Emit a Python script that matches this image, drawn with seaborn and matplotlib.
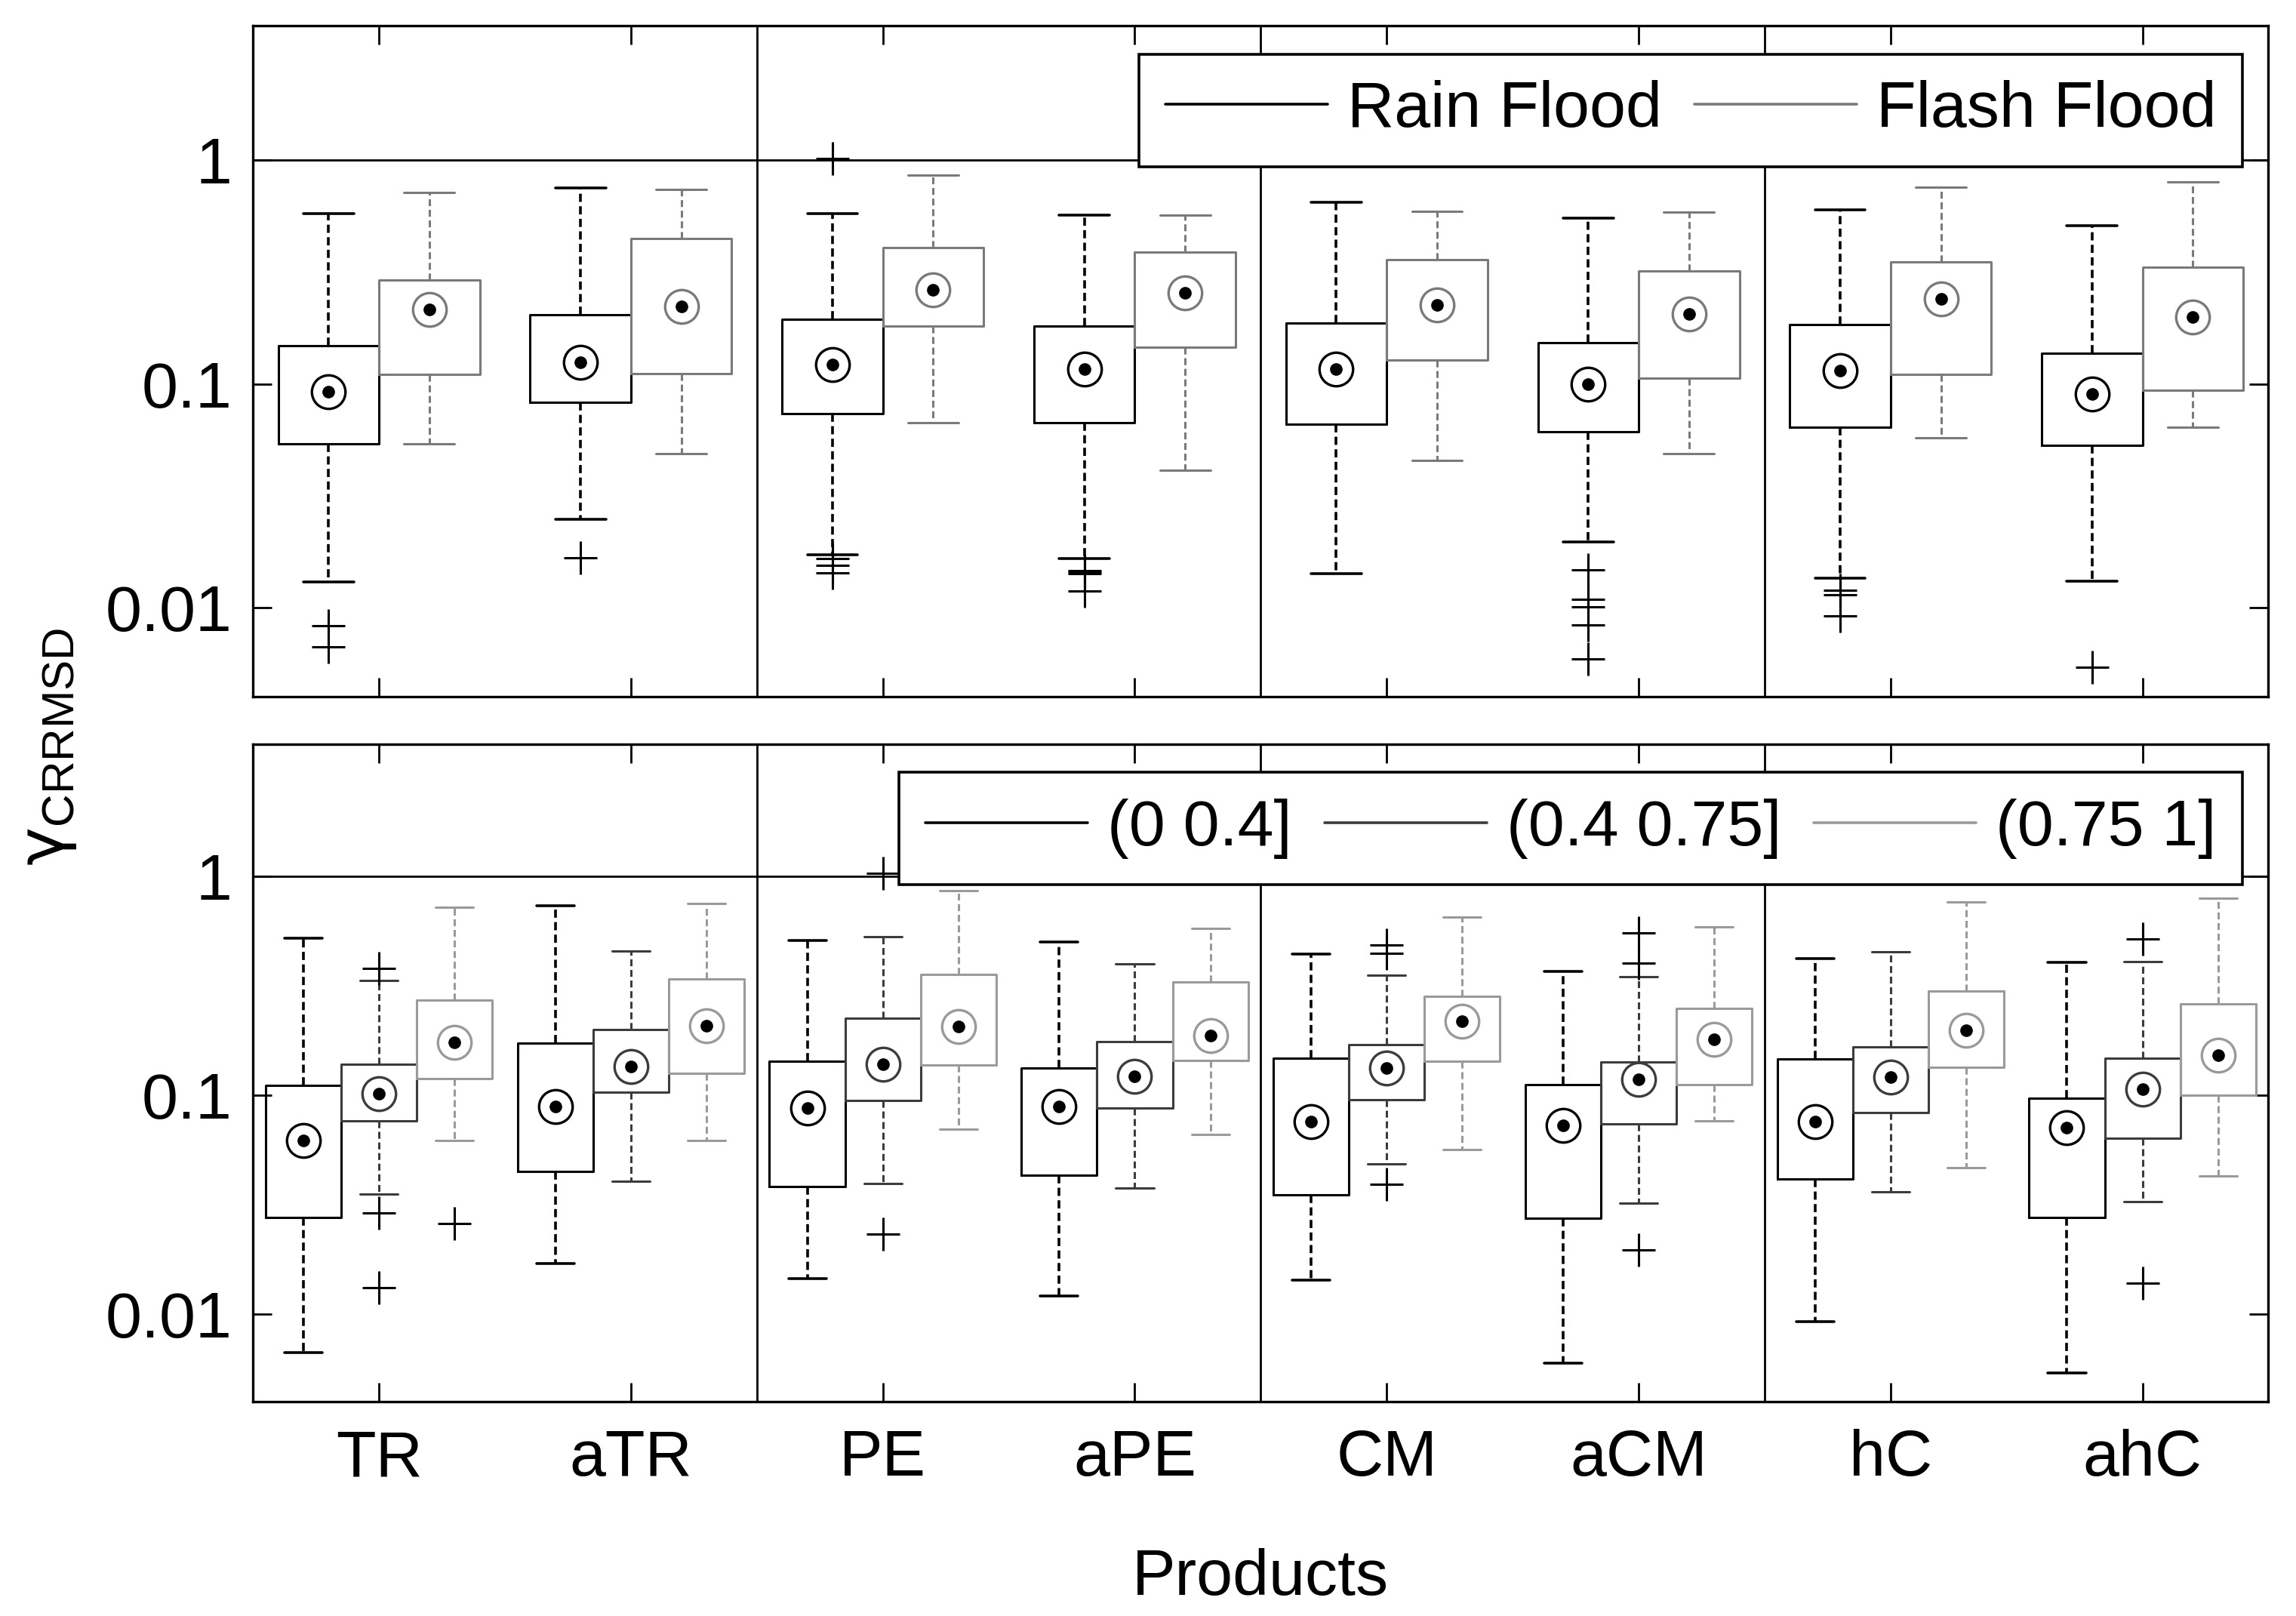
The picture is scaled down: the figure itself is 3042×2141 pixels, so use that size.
"""
Box plots of gamma_CRRMSD per product, split by flood type (top) and by range (bottom).
"""
import matplotlib
matplotlib.use("Agg")
import matplotlib.pyplot as plt
from matplotlib.ticker import NullLocator
from matplotlib.lines import Line2D
import seaborn as sns

sns.set_style("ticks", {"axes.edgecolor": "black", "xtick.color": "black",
                        "ytick.color": "black", "text.color": "black",
                        "axes.labelcolor": "black"})
plt.rcParams.update({
    "font.family": ["Liberation Sans", "DejaVu Sans"],
    "font.size": 31,
    "mathtext.fontset": "custom",
    "mathtext.rm": "DejaVu Sans",
    "mathtext.sf": "Liberation Sans",
})

products = ["TR", "aTR", "PE", "aPE", "CM", "aCM", "hC", "ahC"]
yticks = [0.01, 0.1, 1]
ytick_labels = ["0.01", "0.1", "1"]

# (whisker low, q1, median, q3, whisker high) per product
rain_stats = [
    (0.0130, 0.054, 0.092, 0.148, 0.58),
    (0.0249, 0.083, 0.125, 0.204, 0.75),
    (0.0172, 0.074, 0.122, 0.194, 0.58),
    (0.0166, 0.067, 0.117, 0.181, 0.57),
    (0.0142, 0.066, 0.117, 0.187, 0.65),
    (0.0197, 0.061, 0.100, 0.153, 0.55),
    (0.0136, 0.064, 0.115, 0.184, 0.60),
    (0.0131, 0.053, 0.090, 0.137, 0.51),
]
rain_outliers = [
    [0.0083, 0.0067],
    [0.0167],
    [1.02, 0.0166, 0.0155, 0.0143],
    [0.0146, 0.0144, 0.0142, 0.0119],
    [],
    [0.0148, 0.0109, 0.0101, 0.0084, 0.0059],
    [0.0120, 0.0114, 0.0092],
    [0.0054],
]
flash_stats = [
    (0.054, 0.110, 0.215, 0.291, 0.72),
    (0.0488, 0.111, 0.223, 0.447, 0.74),
    (0.067, 0.182, 0.264, 0.408, 0.86),
    (0.041, 0.146, 0.255, 0.389, 0.57),
    (0.0454, 0.128, 0.226, 0.359, 0.59),
    (0.0488, 0.106, 0.206, 0.319, 0.585),
    (0.0576, 0.110, 0.240, 0.352, 0.76),
    (0.064, 0.094, 0.200, 0.332, 0.80),
]
flash_outliers = [[], [], [], [], [], [], [], []]

low_stats = [
    (0.0067, 0.0276, 0.062, 0.111, 0.52),
    (0.0170, 0.0449, 0.0885, 0.173, 0.73),
    (0.0146, 0.0383, 0.0877, 0.143, 0.51),
    (0.0121, 0.0431, 0.0885, 0.133, 0.50),
    (0.0143, 0.0352, 0.0757, 0.147, 0.44),
    (0.0060, 0.0275, 0.0731, 0.112, 0.368),
    (0.0093, 0.0414, 0.0757, 0.146, 0.42),
    (0.0054, 0.0277, 0.0711, 0.0972, 0.403),
]
low_outliers = [[], [], [], [], [], [], [], []]
mid_stats = [
    (0.0355, 0.0766, 0.102, 0.139, 0.333),
    (0.0404, 0.103, 0.135, 0.200, 0.454),
    (0.0397, 0.095, 0.139, 0.224, 0.53),
    (0.0378, 0.0877, 0.122, 0.176, 0.397),
    (0.0486, 0.0954, 0.133, 0.170, 0.353),
    (0.0323, 0.0742, 0.118, 0.142, 0.348),
    (0.0363, 0.0836, 0.121, 0.166, 0.450),
    (0.0328, 0.0638, 0.107, 0.147, 0.408),
]
mid_outliers = [
    [0.378, 0.0291, 0.0132],
    [],
    [1.03, 0.0233],
    [],
    [0.485, 0.443, 0.0393],
    [0.549, 0.400, 0.0197],
    [],
    [0.515, 0.0139],
]
high_stats = [
    (0.0623, 0.119, 0.174, 0.271, 0.72),
    (0.0623, 0.126, 0.208, 0.340, 0.75),
    (0.070, 0.137, 0.206, 0.356, 0.86),
    (0.0662, 0.144, 0.187, 0.328, 0.576),
    (0.0567, 0.143, 0.217, 0.283, 0.65),
    (0.0763, 0.112, 0.180, 0.250, 0.588),
    (0.0469, 0.134, 0.198, 0.300, 0.76),
    (0.0428, 0.100, 0.152, 0.262, 0.79),
]
high_outliers = [[0.0259], [], [], [], [], [], [], []]

top_series = [("Rain Flood", rain_stats, rain_outliers, "#000000"),
              ("Flash Flood", flash_stats, flash_outliers, "#7a7a7a")]
bottom_series = [("(0 0.4]", low_stats, low_outliers, "#000000"),
                 ("(0.4 0.75]", mid_stats, mid_outliers, "#3c3c3c"),
                 ("(0.75 1]", high_stats, high_outliers, "#9a9a9a")]


def draw_series(ax, stats, outliers, offset, width, capw, color):
    pos = [i + offset for i in range(len(stats))]
    bstats = [dict(whislo=s[0], q1=s[1], med=s[2], q3=s[3], whishi=s[4], fliers=o)
              for s, o in zip(stats, outliers)]
    lw = 1.3 if color == "#000000" else 1.1
    ax.bxp(bstats, positions=pos, widths=width, capwidths=capw, manage_ticks=False,
           boxprops=dict(color=color, lw=1.1),
           whiskerprops=dict(color=color, lw=lw, linestyle=(0, (3, 1.6))),
           capprops=dict(color=color, lw=lw),
           medianprops=dict(linestyle="none"),
           flierprops=dict(marker="+", markeredgecolor="black", markersize=16, markeredgewidth=1.1))
    meds = [s[2] for s in stats]
    ax.plot(pos, meds, "o", mfc="none", mec=color, ms=16, mew=1.2, zorder=4)
    ax.plot(pos, meds, "o", color="black", ms=5, zorder=5)


def style_axis(ax, series, legend_anchor):
    ax.set_yscale("log")
    ax.set_ylim(0.004, 4)
    ax.set_yticks(yticks)
    ax.set_yticklabels(ytick_labels)
    ax.yaxis.set_minor_locator(NullLocator())
    ax.set_xlim(-0.5, 7.5)
    ax.set_xticks(range(len(products)))
    ax.tick_params(direction="in", top=True, right=True, length=9, width=1.0, pad=10)
    ax.tick_params(axis="x", pad=13)
    for sp in ax.spines.values():
        sp.set_linewidth(1.2)
    ax.axhline(1, color="black", lw=1.0, zorder=1)
    for x in [1.5, 3.5, 5.5]:
        ax.axvline(x, color="black", lw=1.0, zorder=1)
    handles = [Line2D([], [], color=c, lw=1.3) for _, _, _, c in series]
    leg = ax.legend(handles, [n for n, _, _, _ in series], loc="upper right",
                    bbox_to_anchor=legend_anchor, ncol=len(series), frameon=True,
                    fancybox=False, framealpha=1, edgecolor="black", borderpad=0.4,
                    handlelength=2.5, handletextpad=0.3, columnspacing=0.5,
                    borderaxespad=0)
    leg.get_frame().set_linewidth(1.3)
    leg.set_zorder(10)


fig = plt.figure(figsize=(15.21, 10.705), dpi=200)
ax_top = fig.add_axes([0.1102, 0.5689, 0.8778, 0.4152])
ax_bot = fig.add_axes([0.1102, 0.1327, 0.8778, 0.4068])

for (name, st, ol, c), off in zip(top_series, [-0.2, 0.2]):
    draw_series(ax_top, st, ol, off, 0.4, 0.2, c)
for (name, st, ol, c), off in zip(bottom_series, [-0.3, 0.0, 0.3]):
    draw_series(ax_bot, st, ol, off, 0.3, 0.15, c)

style_axis(ax_top, top_series, (0.987, 0.9575))
style_axis(ax_bot, bottom_series, (0.987, 0.957))
ax_top.set_xticklabels([])
ax_bot.set_xticklabels(products)
ax_bot.set_xlabel("Products", labelpad=28, color="black")

fig.text(0.021, 0.538, r"$\mathrm{\gamma}_{\mathsf{CRRMSD}}$", rotation=90,
         ha="center", va="center", fontsize=31, color="black")

fig.savefig("out.png", dpi=200)
plt.close(fig)
